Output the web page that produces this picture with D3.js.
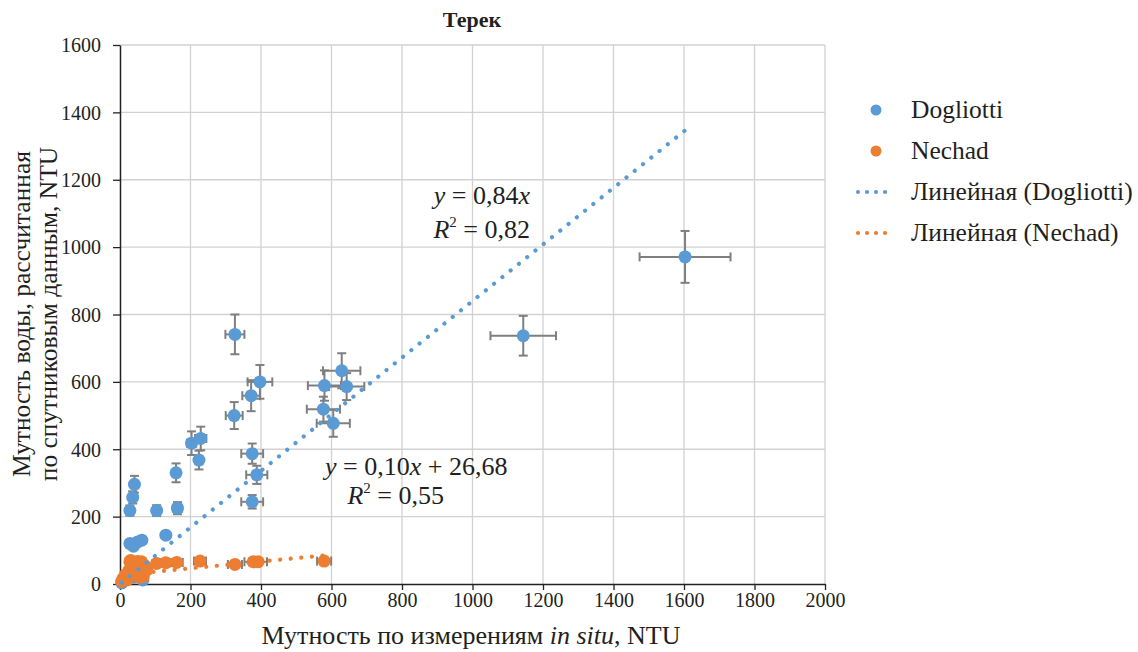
<!DOCTYPE html>
<html>
<head>
<meta charset="utf-8">
<script src="https://cdn.jsdelivr.net/npm/d3@7"></script>
<style>
  html, body { margin: 0; padding: 0; background: #fff; }
</style>
</head>
<body>
<svg id="chart" width="1138" height="652"></svg>
<script>
// Turbidity, Terek river: satellite-derived (two algorithms) vs in situ, NTU

const SERIF = "Liberation Serif";

const xTicks = [0, 200, 400, 600, 800, 1000, 1200, 1400, 1600, 1800, 2000];
const yTicks = [0, 200, 400, 600, 800, 1000, 1200, 1400, 1600];

// Dogliotti algorithm
const dogX    = [326, 397, 372, 324, 203, 229, 224, 375, 388, 375, 159, 163, 104, 28, 36, 41, 130, 28, 38, 50, 62, 629, 580, 643, 577, 605, 1603, 1144, 5, 10, 18, 25, 45, 52, 60, 65, 40];
const dogY    = [741, 600, 559, 500, 418, 432, 368, 387, 324, 244, 330, 225, 218, 218, 257, 296, 145, 120, 112, 125, 130, 633, 589, 586, 519, 477, 971, 737, 3, 10, 15, 28, 45, 42, 20, 12, 20];
const dogXErr = [27, 35, 25, 24, 13, 16, 10, 31, 30, 31, 8, 13, 8, 6, 6, 6, 6, 4, 4, 5, 5, 53, 47, 50, 47, 47, 129, 93, 2, 3, 4, 4, 5, 5, 6, 6, 5];
const dogYErr = [59, 50, 46, 40, 35, 35, 28, 30, 27, 20, 28, 18, 16, 15, 18, 25, 10, 8, 8, 8, 8, 52, 45, 40, 37, 40, 77, 59, 2, 3, 4, 4, 5, 5, 4, 4, 4];

// Nechad algorithm
const necX    = [5, 8, 12, 15, 20, 25, 28, 32, 38, 40, 45, 50, 55, 61, 66, 70, 76, 30, 50, 104, 130, 161, 227, 326, 378, 392, 579];
const necY    = [8, 15, 20, 27, 12, 40, 66, 30, 32, 55, 62, 45, 20, 66, 22, 55, 42, 70, 67, 61, 63, 64, 68, 58, 66, 66, 68];
const necXErr = [3, 3, 4, 4, 4, 5, 8, 5, 6, 6, 8, 6, 6, 8, 6, 8, 8, 8, 8, 12, 14, 17, 17, 20, 25, 25, 20];
const necYErr = [2, 3, 3, 3, 3, 4, 6, 4, 4, 5, 5, 5, 4, 6, 4, 5, 5, 6, 6, 6, 6, 6, 7, 7, 7, 7, 7];

// Linear trendlines
const dogSlope = 0.84, dogIntercept = 0;
const necSlope = 0.10, necIntercept = 26.68;

const seriesNames = ["Dogliotti", "Nechad", "Линейная (Dogliotti)", "Линейная (Nechad)"];
const blue = "#5B9BD5", orange = "#ED7D31", errColor = "#7f7f7f", ink = "#231f20";

const svg = d3.select("#chart");
const x = d3.scaleLinear().domain([0, 2000]).range([120, 825]);
const y = d3.scaleLinear().domain([0, 1600]).range([584, 45]);

function txt(sel) {
  return sel.append("text").style("font-family", SERIF).attr("fill", ink);
}

// gridlines
svg.append("g").selectAll("line").data(xTicks.slice(1)).join("line")
  .attr("x1", d => x(d)).attr("x2", d => x(d)).attr("y1", y(0)).attr("y2", y(1600))
  .attr("stroke", "#d2d2d2").attr("stroke-width", 1.3);
svg.append("g").selectAll("line").data(yTicks.slice(1)).join("line")
  .attr("x1", x(0)).attr("x2", x(2000)).attr("y1", d => y(d)).attr("y2", d => y(d))
  .attr("stroke", "#d2d2d2").attr("stroke-width", 1.3);

// axes
const xAxis = d3.axisBottom(x).tickValues(xTicks).tickSize(6).tickSizeOuter(0).tickFormat(d => d);
const yAxis = d3.axisLeft(y).tickValues(yTicks).tickSize(7).tickSizeOuter(0).tickFormat(d => d);
const gx = svg.append("g").attr("transform", `translate(0,${y(0)})`).call(xAxis);
const gy = svg.append("g").attr("transform", `translate(${x(0)},0)`).call(yAxis);
[gx, gy].forEach(g => {
  g.attr("font-family", SERIF).attr("font-size", 20);
  g.select(".domain").attr("stroke", "#222").attr("stroke-width", 1.5);
  g.selectAll(".tick line").attr("stroke", "#222").attr("stroke-width", 1.3);
  g.selectAll(".tick text").style("font-family", SERIF).attr("fill", ink);
});
gx.selectAll(".tick text").attr("dy", null).attr("y", 23);
gy.selectAll(".tick text").attr("x", -19).attr("dy", "0.34em");

// error bars + markers for a series
function drawSeries(xs, ys, exs, eys, color) {
  const g = svg.append("g");
  const cap = 4.5;
  const pts = xs.map((v, i) => ({ x: v, y: ys[i], ex: exs[i], ey: eys[i] }));
  const eb = g.append("g").attr("stroke", errColor).attr("stroke-width", 2).attr("fill", "none");
  pts.forEach(p => {
    const cx = x(p.x), cy = y(p.y);
    const x0 = x(Math.max(0, p.x - p.ex)), x1 = x(p.x + p.ex);
    const y0 = y(Math.max(0, p.y - p.ey)), y1 = y(p.y + p.ey);
    eb.append("line").attr("x1", x0).attr("x2", x1).attr("y1", cy).attr("y2", cy);
    eb.append("line").attr("x1", x0).attr("x2", x0).attr("y1", cy - cap).attr("y2", cy + cap);
    eb.append("line").attr("x1", x1).attr("x2", x1).attr("y1", cy - cap).attr("y2", cy + cap);
    eb.append("line").attr("x1", cx).attr("x2", cx).attr("y1", y0).attr("y2", y1);
    eb.append("line").attr("x1", cx - cap).attr("x2", cx + cap).attr("y1", y0).attr("y2", y0);
    eb.append("line").attr("x1", cx - cap).attr("x2", cx + cap).attr("y1", y1).attr("y2", y1);
  });
  g.append("g").selectAll("circle").data(pts).join("circle")
    .attr("cx", d => x(d.x)).attr("cy", d => y(d.y)).attr("r", 6.5).attr("fill", color);
}
drawSeries(dogX, dogY, dogXErr, dogYErr, blue);
drawSeries(necX, necY, necXErr, necYErr, orange);

// dotted trendlines over the data range
function trend(xs, slope, intercept, color) {
  const x0 = d3.min(xs), x1 = d3.max(xs);
  svg.append("line")
    .attr("x1", x(x0)).attr("y1", y(slope * x0 + intercept))
    .attr("x2", x(x1)).attr("y2", y(slope * x1 + intercept))
    .attr("stroke", color).attr("stroke-width", 4.2)
    .attr("stroke-linecap", "round").attr("stroke-dasharray", "0.01 10.6");
}
trend(dogX, dogSlope, dogIntercept, blue);
trend(necX, necSlope, necIntercept, orange);

// regression equations
function r2Line(t, value) {
  t.append("tspan").attr("font-style", "italic").text("R");
  t.append("tspan").attr("font-size", 15).attr("dy", -11).text("2");
  t.append("tspan").attr("dy", 11).text(" = " + value);
}
txt(svg).attr("x", 530).attr("y", 204).attr("text-anchor", "end").attr("font-size", 26)
  .call(t => {
    t.append("tspan").attr("font-style", "italic").text("y");
    t.append("tspan").text(" = 0,84");
    t.append("tspan").attr("font-style", "italic").text("x");
  });
txt(svg).attr("x", 530).attr("y", 238).attr("text-anchor", "end").attr("font-size", 26)
  .call(t => r2Line(t, "0,82"));
txt(svg).attr("x", 325).attr("y", 475).attr("font-size", 26)
  .call(t => {
    t.append("tspan").attr("font-style", "italic").text("y");
    t.append("tspan").text(" = 0,10");
    t.append("tspan").attr("font-style", "italic").text("x");
    t.append("tspan").text(" + 26,68");
  });
txt(svg).attr("x", 444).attr("y", 504).attr("text-anchor", "end").attr("font-size", 26)
  .call(t => r2Line(t, "0,55"));

// title
txt(svg).attr("x", 472).attr("y", 27).attr("text-anchor", "middle")
  .attr("font-size", 22).attr("font-weight", "bold").text("Терек");

// axis titles
txt(svg).attr("x", 471).attr("y", 644).attr("text-anchor", "middle").attr("font-size", 26)
  .call(t => {
    t.append("tspan").text("Мутность по измерениям ");
    t.append("tspan").attr("font-style", "italic").text("in situ");
    t.append("tspan").text(", NTU");
  });
const yl = txt(svg).attr("transform", "translate(0,314) rotate(-90)")
  .attr("text-anchor", "middle").attr("font-size", 25.5);
yl.append("tspan").attr("x", 0).attr("y", 30).text("Мутность воды, рассчитанная");
yl.append("tspan").attr("x", 0).attr("y", 57).text("по спутниковым данным, NTU");

// legend
const leg = svg.append("g");
const legY = [110, 151, 192, 233];
leg.append("circle").attr("cx", 876).attr("cy", legY[0]).attr("r", 5.5).attr("fill", blue);
leg.append("circle").attr("cx", 876).attr("cy", legY[1]).attr("r", 5.5).attr("fill", orange);
[[blue, legY[2]], [orange, legY[3]]].forEach(([c, yy]) => {
  leg.append("line").attr("x1", 858).attr("x2", 894).attr("y1", yy).attr("y2", yy)
    .attr("stroke", c).attr("stroke-width", 4.2).attr("stroke-linecap", "round")
    .attr("stroke-dasharray", "0.01 9");
});
seriesNames.forEach((n, i) => {
  txt(leg).attr("x", 911).attr("y", legY[i] + 8).attr("font-size", 25.5).text(n);
});
</script>
</body>
</html>
